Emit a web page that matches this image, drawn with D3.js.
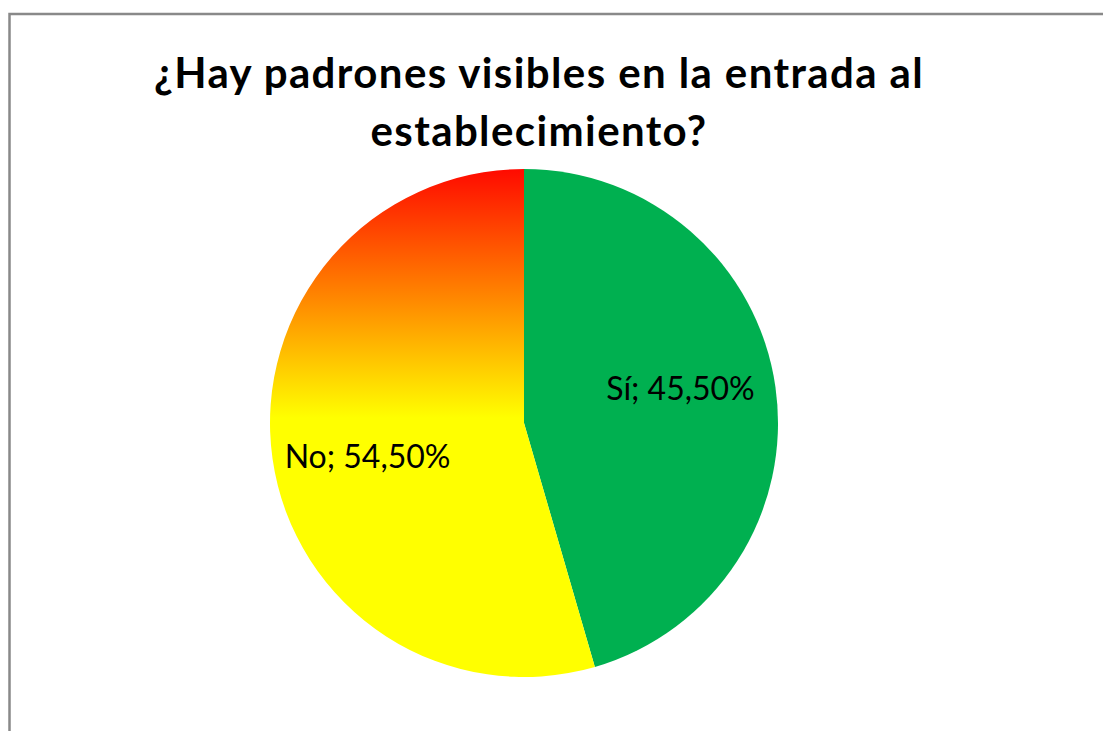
<!DOCTYPE html>
<html>
<head>
<meta charset="utf-8">
<script src="https://cdn.jsdelivr.net/npm/d3@7"></script>
<style>
  body { margin: 0; background: #fff; }
</style>
</head>
<body>
<div id="chart"></div>
<script>
// chart data
var categories = ["Sí", "No"]
var values = [45.5, 54.5]
var titleLines = ["¿Hay padrones visibles en la entrada al", "establecimiento?"]

var width = 1103,
    height = 731,
    radius = 254

var svg = d3.select("#chart")
  .append("svg")
    .attr("width", width)
    .attr("height", height)

// outer frame, runs off the right and bottom of the picture
svg.append("rect")
  .attr("x", 9.5)
  .attr("y", 14)
  .attr("width", 1200)
  .attr("height", 900)
  .attr("fill", "white")
  .attr("stroke", "#898989")
  .attr("stroke-width", 2.5)

// gradient for the "No" slice (red at the top fading to yellow)
var defs = svg.append("defs")
var grad = defs.append("linearGradient")
  .attr("id", "noGrad")
  .attr("gradientUnits", "userSpaceOnUse")
  .attr("x1", 0).attr("y1", -radius)
  .attr("x2", 0).attr("y2", radius)
grad.append("stop").attr("offset", "0").attr("stop-color", "#ff0a00")
grad.append("stop").attr("offset", "0.26").attr("stop-color", "#ff8a00")
grad.append("stop").attr("offset", "0.49").attr("stop-color", "#ffff00")
grad.append("stop").attr("offset", "1").attr("stop-color", "#ffff00")

var color = d3.scaleOrdinal()
  .domain(categories)
  .range(["#00b050", "url(#noGrad)"])

var g = svg.append("g")
  .attr("transform", "translate(524,423)")

var pie = d3.pie()
  .value(function(d) { return d.value })
  .sort(null)

var data_ready = pie(categories.map(function(c, i) { return {key: c, value: values[i]} }))

var arc = d3.arc()
  .innerRadius(0)
  .outerRadius(radius)

g.selectAll("path")
  .data(data_ready)
  .enter()
  .append("path")
    .attr("d", arc)
    .attr("fill", function(d) { return color(d.data.key) })

// data labels, placed a little before the middle angle like excel does
var labelArc = d3.arc()
  .innerRadius(radius * 0.63)
  .outerRadius(radius * 0.63)

g.selectAll("text.lbl")
  .data(data_ready)
  .enter()
  .append("text")
    .attr("class", "lbl")
    .attr("transform", function(d) {
      var c = labelArc.centroid({startAngle: d.startAngle - 0.07, endAngle: d.endAngle - 0.07})
      return "translate(" + c[0] + "," + (c[1] + 11) + ")"
    })
    .attr("text-anchor", "middle")
    .style("font-family", "Lato, 'Open Sans', sans-serif")
    .style("font-size", "32px")
    .style("fill", "#000")
    .text(function(d) { return d.data.key + "; " + d3.format(".2f")(d.data.value).replace(".", ",") + "%" })

// title
svg.selectAll("text.title")
  .data(titleLines)
  .enter()
  .append("text")
    .attr("class", "title")
    .attr("x", 539)
    .attr("y", function(d, i) { return 88 + i * 58 })
    .attr("text-anchor", "middle")
    .style("font-family", "Lato, 'Open Sans', sans-serif")
    .style("font-weight", "bold")
    .style("font-size", "42px")
    .style("letter-spacing", "1.4px")
    .style("fill", "#000")
    .text(function(d) { return d })
</script>
</body>
</html>
